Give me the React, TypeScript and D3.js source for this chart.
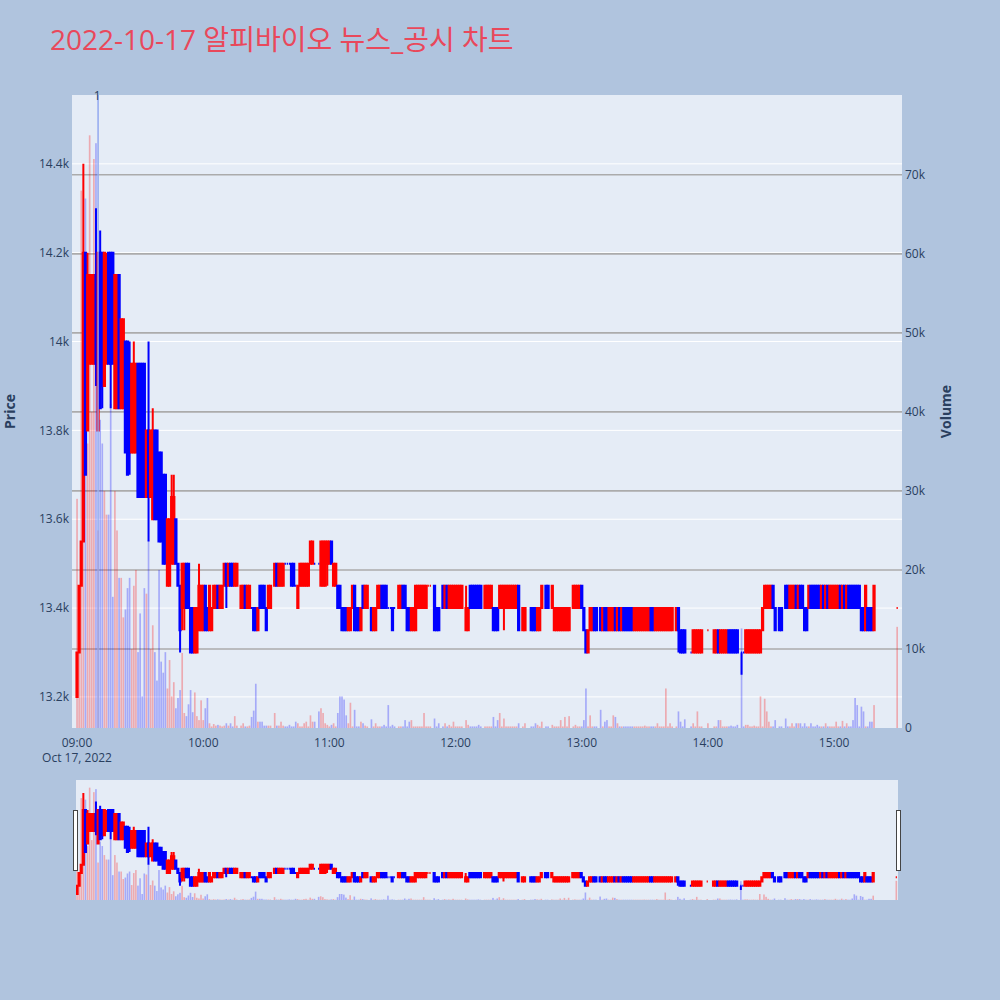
import React, { useEffect, useRef } from 'react';
import * as d3 from 'd3';

// 1-minute bars for 2022-10-17, minute = minutes after 09:00
const minutes = [
  0, 1, 2, 3, 4, 5, 6, 7, 8, 9,
  10, 11, 12, 13, 14, 15, 16, 17, 18, 19,
  20, 21, 22, 23, 24, 25, 26, 27, 28, 29,
  30, 31, 32, 33, 34, 35, 36, 37, 38, 39,
  40, 41, 42, 43, 44, 45, 46, 47, 48, 49,
  50, 51, 52, 53, 54, 55, 56, 57, 58, 59,
  60, 61, 62, 63, 64, 65, 66, 67, 68, 69,
  70, 71, 72, 73, 74, 75, 76, 78, 79, 80,
  81, 82, 83, 84, 85, 86, 87, 88, 89, 90,
  91, 92, 94, 95, 96, 97, 98, 99, 100, 101,
  102, 103, 104, 105, 106, 107, 108, 109, 110, 111,
  112, 113, 115, 116, 117, 118, 119, 120, 121, 122,
  123, 124, 125, 126, 127, 128, 129, 130, 131, 132,
  133, 134, 135, 136, 137, 138, 140, 141, 142, 143,
  144, 145, 146, 147, 148, 149, 150, 151, 153, 154,
  155, 156, 157, 158, 159, 160, 161, 162, 163, 164,
  165, 166, 167, 168, 170, 171, 172, 174, 175, 176,
  177, 178, 179, 180, 181, 182, 183, 185, 186, 187,
  188, 189, 190, 191, 192, 194, 195, 196, 197, 198,
  199, 200, 201, 202, 203, 204, 205, 206, 207, 208,
  209, 210, 212, 213, 216, 217, 218, 219, 220, 221,
  223, 224, 226, 227, 228, 229, 230, 231, 232, 233,
  234, 236, 237, 238, 239, 240, 241, 242, 243, 244,
  245, 246, 247, 249, 250, 251, 252, 253, 254, 255,
  256, 257, 258, 259, 260, 261, 262, 263, 264, 265,
  266, 267, 268, 269, 270, 271, 272, 273, 274, 275,
  276, 277, 278, 279, 280, 281, 282, 283, 285, 286,
  287, 288, 289, 292, 293, 294, 295, 296, 297, 300,
  303, 304, 305, 306, 307, 308, 309, 310, 311, 312,
  313, 314, 316, 317, 318, 319, 320, 321, 322, 323,
  324, 325, 326, 327, 328, 329, 330, 331, 332, 334,
  335, 337, 338, 339, 340, 341, 342, 343, 344, 345,
  346, 347, 348, 349, 350, 351, 352, 353, 354, 355,
  356, 357, 358, 359, 360, 361, 362, 363, 364, 365,
  366, 367, 368, 369, 370, 371, 372, 373, 374, 375,
  376, 377, 378, 379, 390,
];

const opens = [
  13200, 13300, 13450, 13550, 14200, 13800, 13950, 13950, 13950, 14150,
  13800, 14200, 14200, 13900, 13950, 14200, 14200, 14200, 13850, 13850,
  14150, 13850, 13850, 14000, 14000, 13950, 13750, 13750, 13750, 13950,
  13950, 13950, 13950, 13650, 13800, 13650, 13600, 13800, 13800, 13750,
  13750, 13700, 13700, 13450, 13450, 13500, 13500, 13600, 13500, 13450,
  13400, 13400, 13500, 13500, 13400, 13400, 13300, 13300, 13350, 13350,
  13350, 13450, 13400, 13350, 13350, 13400, 13400, 13450, 13400, 13400,
  13450, 13500, 13450, 13500, 13500, 13450, 13450, 13400, 13400, 13450,
  13400, 13400, 13400, 13400, 13400, 13350, 13450, 13450, 13450, 13400,
  13400, 13400, 13450, 13500, 13450, 13450, 13450, 13500, 13500, 13500,
  13500, 13500, 13450, 13400, 13450, 13450, 13450, 13450, 13450, 13500,
  13500, 13500, 13500, 13450, 13450, 13450, 13500, 13500, 13550, 13450,
  13450, 13450, 13450, 13400, 13400, 13400, 13350, 13350, 13400, 13450,
  13400, 13400, 13350, 13450, 13400, 13400, 13400, 13350, 13350, 13400,
  13400, 13450, 13450, 13450, 13400, 13400, 13400, 13400, 13400, 13400,
  13450, 13450, 13400, 13400, 13350, 13350, 13350, 13400, 13400, 13400,
  13400, 13400, 13450, 13450, 13450, 13400, 13400, 13450, 13400, 13450,
  13400, 13400, 13400, 13400, 13400, 13400, 13400, 13350, 13350, 13450,
  13450, 13450, 13450, 13450, 13450, 13400, 13400, 13400, 13400, 13400,
  13400, 13400, 13400, 13400, 13400, 13400, 13400, 13400, 13400, 13400,
  13400, 13450, 13350, 13350, 13400, 13400, 13400, 13350, 13350, 13400,
  13450, 13450, 13400, 13350, 13350, 13350, 13350, 13350, 13350, 13350,
  13350, 13400, 13400, 13400, 13400, 13450, 13400, 13350, 13300, 13350,
  13350, 13400, 13400, 13400, 13350, 13400, 13400, 13350, 13350, 13350,
  13400, 13350, 13400, 13350, 13400, 13400, 13400, 13400, 13400, 13350,
  13350, 13350, 13350, 13350, 13350, 13350, 13350, 13400, 13400, 13350,
  13350, 13350, 13350, 13350, 13350, 13350, 13350, 13350, 13350, 13400,
  13350, 13350, 13350, 13300, 13300, 13300, 13300, 13300, 13300, 13350,
  13300, 13300, 13350, 13300, 13300, 13300, 13300, 13350, 13350, 13350,
  13350, 13350, 13300, 13300, 13300, 13300, 13300, 13300, 13300, 13300,
  13300, 13300, 13350, 13400, 13400, 13400, 13400, 13450, 13400, 13400,
  13400, 13450, 13450, 13400, 13400, 13400, 13450, 13400, 13450, 13450,
  13400, 13400, 13400, 13450, 13450, 13450, 13450, 13450, 13400, 13450,
  13400, 13450, 13400, 13400, 13400, 13400, 13400, 13450, 13400, 13450,
  13400, 13450, 13450, 13450, 13450, 13450, 13450, 13400, 13400, 13350,
  13400, 13400, 13400, 13350, 13400,
];

const highs = [
  13300, 13450, 13550, 14400, 14200, 14200, 14150, 14150, 14150, 14300,
  14200, 14250, 14200, 14200, 14200, 14200, 14200, 14200, 14150, 14150,
  14150, 14050, 14050, 14000, 14000, 14000, 13950, 14000, 13950, 13950,
  13950, 13950, 13950, 13800, 14000, 13800, 13850, 13800, 13800, 13750,
  13750, 13700, 13700, 13600, 13600, 13700, 13700, 13600, 13500, 13450,
  13500, 13500, 13500, 13500, 13400, 13400, 13400, 13400, 13500, 13450,
  13450, 13450, 13400, 13450, 13400, 13450, 13450, 13450, 13450, 13450,
  13500, 13500, 13500, 13500, 13500, 13500, 13500, 13450, 13450, 13450,
  13450, 13450, 13400, 13400, 13400, 13400, 13450, 13450, 13450, 13400,
  13450, 13450, 13500, 13500, 13500, 13500, 13500, 13500, 13500, 13500,
  13500, 13500, 13450, 13450, 13500, 13500, 13500, 13500, 13500, 13550,
  13550, 13500, 13500, 13550, 13550, 13550, 13550, 13550, 13550, 13500,
  13500, 13450, 13450, 13400, 13400, 13400, 13400, 13400, 13450, 13450,
  13400, 13400, 13400, 13450, 13450, 13450, 13400, 13400, 13400, 13450,
  13450, 13450, 13450, 13450, 13400, 13400, 13400, 13400, 13450, 13450,
  13450, 13450, 13400, 13400, 13400, 13400, 13450, 13450, 13450, 13450,
  13450, 13450, 13450, 13450, 13450, 13400, 13400, 13450, 13450, 13450,
  13450, 13450, 13450, 13450, 13450, 13450, 13450, 13450, 13400, 13450,
  13450, 13450, 13450, 13450, 13450, 13450, 13450, 13450, 13450, 13400,
  13400, 13400, 13450, 13450, 13450, 13450, 13450, 13450, 13450, 13450,
  13450, 13450, 13400, 13400, 13400, 13400, 13400, 13400, 13400, 13450,
  13450, 13450, 13450, 13400, 13400, 13400, 13400, 13400, 13400, 13400,
  13400, 13450, 13450, 13450, 13450, 13450, 13400, 13350, 13350, 13400,
  13400, 13400, 13400, 13400, 13400, 13400, 13400, 13400, 13400, 13400,
  13400, 13400, 13400, 13400, 13400, 13400, 13400, 13400, 13400, 13400,
  13400, 13400, 13400, 13400, 13400, 13400, 13400, 13400, 13400, 13400,
  13400, 13400, 13400, 13400, 13400, 13400, 13400, 13400, 13400, 13400,
  13350, 13350, 13350, 13300, 13350, 13350, 13350, 13350, 13350, 13350,
  13350, 13350, 13350, 13350, 13350, 13350, 13350, 13350, 13350, 13350,
  13350, 13350, 13300, 13300, 13350, 13350, 13350, 13350, 13350, 13350,
  13350, 13350, 13400, 13450, 13450, 13450, 13450, 13450, 13400, 13400,
  13400, 13450, 13450, 13450, 13450, 13450, 13450, 13450, 13450, 13450,
  13400, 13400, 13450, 13450, 13450, 13450, 13450, 13450, 13450, 13450,
  13450, 13450, 13450, 13450, 13450, 13450, 13450, 13450, 13450, 13450,
  13450, 13450, 13450, 13450, 13450, 13450, 13450, 13400, 13400, 13450,
  13400, 13400, 13400, 13450, 13400,
];

const lows = [
  13200, 13300, 13450, 13550, 13700, 13800, 13950, 13950, 13950, 13900,
  13800, 13850, 13850, 13900, 13950, 13950, 13850, 13950, 13850, 13850,
  13850, 13850, 13850, 13750, 13700, 13700, 13750, 13750, 13750, 13650,
  13650, 13650, 13650, 13650, 13550, 13650, 13600, 13600, 13600, 13550,
  13550, 13500, 13500, 13450, 13450, 13500, 13500, 13500, 13450, 13300,
  13350, 13350, 13400, 13400, 13300, 13300, 13300, 13300, 13350, 13350,
  13350, 13350, 13350, 13350, 13350, 13400, 13400, 13400, 13400, 13400,
  13450, 13400, 13450, 13450, 13450, 13450, 13450, 13400, 13400, 13400,
  13400, 13400, 13400, 13350, 13350, 13350, 13400, 13400, 13400, 13350,
  13400, 13400, 13450, 13450, 13450, 13450, 13450, 13500, 13500, 13500,
  13450, 13450, 13450, 13400, 13450, 13450, 13450, 13450, 13450, 13500,
  13500, 13500, 13500, 13450, 13450, 13450, 13450, 13500, 13500, 13450,
  13450, 13400, 13400, 13350, 13350, 13350, 13350, 13350, 13400, 13350,
  13350, 13350, 13350, 13400, 13400, 13400, 13350, 13350, 13350, 13400,
  13400, 13400, 13400, 13400, 13400, 13400, 13350, 13400, 13400, 13400,
  13400, 13400, 13350, 13350, 13350, 13350, 13350, 13400, 13400, 13400,
  13400, 13400, 13450, 13450, 13350, 13350, 13350, 13400, 13400, 13400,
  13400, 13400, 13400, 13400, 13400, 13400, 13400, 13350, 13350, 13400,
  13400, 13400, 13400, 13400, 13400, 13400, 13400, 13400, 13400, 13350,
  13350, 13350, 13400, 13400, 13350, 13400, 13400, 13400, 13400, 13400,
  13400, 13350, 13350, 13350, 13350, 13350, 13350, 13350, 13350, 13400,
  13400, 13400, 13400, 13350, 13350, 13350, 13350, 13350, 13350, 13350,
  13350, 13400, 13400, 13400, 13400, 13400, 13350, 13300, 13300, 13350,
  13350, 13350, 13350, 13350, 13350, 13350, 13350, 13350, 13350, 13350,
  13350, 13350, 13350, 13350, 13350, 13350, 13350, 13350, 13350, 13350,
  13350, 13350, 13350, 13350, 13350, 13350, 13350, 13350, 13350, 13350,
  13350, 13350, 13350, 13350, 13350, 13350, 13350, 13350, 13350, 13300,
  13300, 13300, 13300, 13300, 13300, 13300, 13300, 13300, 13300, 13350,
  13300, 13300, 13300, 13300, 13300, 13300, 13300, 13300, 13300, 13300,
  13300, 13300, 13250, 13300, 13300, 13300, 13300, 13300, 13300, 13300,
  13300, 13300, 13350, 13400, 13400, 13400, 13400, 13400, 13350, 13350,
  13350, 13400, 13400, 13400, 13400, 13400, 13400, 13400, 13400, 13400,
  13350, 13350, 13400, 13400, 13400, 13400, 13400, 13400, 13400, 13400,
  13400, 13400, 13400, 13400, 13400, 13400, 13400, 13400, 13400, 13400,
  13400, 13400, 13400, 13400, 13400, 13400, 13400, 13350, 13350, 13350,
  13350, 13350, 13350, 13350, 13400,
];

const closes = [
  13300, 13450, 13550, 14200, 13700, 14150, 14150, 14150, 14150, 13950,
  14200, 13850, 13900, 14200, 14150, 13950, 13950, 13950, 14150, 14150,
  13850, 14050, 14050, 13750, 13700, 13750, 13950, 13950, 13950, 13650,
  13650, 13650, 13650, 13800, 13650, 13800, 13800, 13600, 13600, 13550,
  13550, 13500, 13500, 13600, 13600, 13650, 13650, 13500, 13450, 13350,
  13500, 13500, 13400, 13400, 13300, 13300, 13400, 13400, 13450, 13450,
  13450, 13350, 13350, 13450, 13400, 13450, 13450, 13400, 13450, 13450,
  13500, 13450, 13500, 13450, 13450, 13500, 13500, 13450, 13450, 13400,
  13450, 13450, 13400, 13350, 13350, 13400, 13400, 13400, 13400, 13350,
  13450, 13450, 13500, 13450, 13500, 13500, 13500, 13500, 13500, 13500,
  13450, 13450, 13450, 13450, 13500, 13500, 13500, 13500, 13500, 13550,
  13550, 13500, 13500, 13550, 13550, 13550, 13550, 13550, 13500, 13500,
  13500, 13400, 13400, 13350, 13350, 13350, 13400, 13400, 13450, 13350,
  13350, 13350, 13400, 13400, 13450, 13450, 13350, 13400, 13400, 13450,
  13450, 13400, 13400, 13400, 13400, 13400, 13350, 13400, 13450, 13450,
  13400, 13400, 13350, 13350, 13400, 13400, 13450, 13450, 13450, 13450,
  13450, 13450, 13450, 13450, 13350, 13350, 13350, 13400, 13450, 13400,
  13450, 13450, 13450, 13450, 13450, 13450, 13450, 13400, 13400, 13400,
  13400, 13400, 13400, 13400, 13400, 13450, 13450, 13450, 13450, 13350,
  13350, 13350, 13450, 13450, 13450, 13450, 13450, 13450, 13450, 13450,
  13450, 13350, 13400, 13400, 13350, 13350, 13350, 13400, 13400, 13450,
  13400, 13400, 13450, 13400, 13400, 13400, 13400, 13400, 13400, 13400,
  13400, 13450, 13450, 13450, 13450, 13400, 13350, 13300, 13350, 13400,
  13400, 13350, 13350, 13350, 13400, 13350, 13350, 13400, 13400, 13400,
  13350, 13400, 13350, 13400, 13350, 13350, 13350, 13350, 13350, 13400,
  13400, 13400, 13400, 13400, 13400, 13400, 13400, 13350, 13350, 13400,
  13400, 13400, 13400, 13400, 13400, 13400, 13400, 13400, 13400, 13350,
  13300, 13300, 13300, 13300, 13350, 13350, 13350, 13350, 13350, 13350,
  13350, 13350, 13300, 13350, 13350, 13350, 13350, 13300, 13300, 13300,
  13300, 13300, 13300, 13300, 13350, 13350, 13350, 13350, 13350, 13350,
  13350, 13350, 13400, 13450, 13450, 13450, 13450, 13400, 13350, 13350,
  13350, 13400, 13400, 13450, 13450, 13450, 13400, 13450, 13400, 13400,
  13350, 13350, 13450, 13400, 13400, 13400, 13400, 13400, 13450, 13400,
  13450, 13400, 13450, 13450, 13450, 13450, 13450, 13400, 13450, 13400,
  13450, 13400, 13400, 13400, 13400, 13400, 13400, 13350, 13350, 13450,
  13350, 13350, 13350, 13450, 13400,
];

const volumes = [
  29000, 12000, 68000, 30000, 67000, 36000, 75000, 40000, 72000, 74000,
  25000, 39000, 36000, 30000, 27000, 27000, 41000, 16600, 30000, 25000,
  19000, 19000, 14000, 15000, 17700, 19000, 10000, 18000, 20000, 9600,
  14500, 4000, 17700, 17000, 23800, 10000, 13000, 9600, 6000, 20000,
  8400, 7000, 9600, 5000, 8600, 4000, 5800, 2500, 3800, 4800,
  9500, 1900, 1500, 3000, 4800, 2000, 4500, 1500, 1000, 3500,
  1000, 2500, 3800, 600, 200, 500, 300, 400, 300, 200,
  300, 600, 300, 600, 200, 1500, 300, 300, 600, 200,
  200, 300, 1400, 2200, 5600, 800, 800, 800, 300, 300,
  300, 300, 1900, 300, 300, 800, 300, 200, 200, 400,
  200, 200, 800, 600, 200, 200, 600, 800, 200, 1600,
  800, 800, 2100, 2500, 1900, 600, 400, 200, 400, 600,
  200, 1900, 4000, 4000, 3600, 1600, 600, 3200, 200, 2300,
  200, 200, 800, 600, 300, 200, 1100, 200, 600, 200,
  200, 200, 400, 200, 2900, 200, 400, 200, 200, 200,
  200, 1000, 200, 800, 1000, 200, 200, 200, 200, 200,
  1900, 200, 200, 200, 1200, 200, 600, 200, 600, 200,
  400, 200, 800, 200, 200, 200, 200, 1000, 400, 200,
  200, 200, 200, 400, 200, 200, 200, 200, 200, 1400,
  200, 1000, 1900, 200, 1200, 200, 200, 200, 200, 200,
  200, 600, 200, 600, 200, 200, 600, 400, 200, 800,
  200, 200, 400, 200, 200, 200, 1000, 200, 1400, 200,
  1500, 200, 400, 200, 200, 200, 1000, 5000, 200, 1600,
  200, 200, 200, 2300, 200, 800, 1000, 200, 200, 1600,
  1400, 600, 200, 200, 200, 200, 200, 200, 200, 200,
  200, 200, 200, 200, 300, 200, 200, 200, 200, 200,
  600, 200, 200, 200, 5000, 200, 600, 200, 200, 2100,
  800, 200, 1100, 200, 600, 200, 2100, 200, 200, 600,
  200, 200, 1000, 1000, 200, 200, 200, 200, 300, 200,
  200, 400, 12600, 200, 400, 400, 200, 200, 300, 200,
  200, 4000, 200, 3700, 2100, 800, 200, 200, 1000, 200,
  200, 1200, 200, 200, 600, 200, 600, 600, 600, 200,
  600, 200, 200, 600, 200, 200, 400, 200, 200, 200,
  600, 200, 200, 200, 200, 800, 200, 200, 900, 200,
  600, 200, 200, 1000, 3800, 2900, 200, 2700, 2100, 200,
  200, 800, 800, 2900, 12800,
];

// open == close bars that are drawn in the rising colour
const redDojiMinutes = [167, 168, 300, 390];

const priceTicks = [13200, 13400, 13600, 13800, 14000, 14200, 14400];
const volumeTicks = [0, 10000, 20000, 30000, 40000, 50000, 60000, 70000];
const hourTicks = [0, 60, 120, 180, 240, 300, 360];
const hourLabels = ['09:00', '10:00', '11:00', '12:00', '13:00', '14:00', '15:00'];
const newsMinutes = [10];
const newsLabels = ['1'];

const TITLE = '2022-10-17 알피바이오 뉴스_공시 차트';
const UP = '#ff0000';
const DOWN = '#0000ff';
const FONT = '"Open Sans", verdana, arial, "Noto Sans CJK KR", sans-serif';
const INK = '#2a3f5f';

const dayStart = new Date(2022, 9, 17, 9, 0, 0);
const toTime = (m: number) => new Date(dayStart.getTime() + m * 60000);

function candlePath(x: number, hw: number, yo: number, yh: number, yl: number, yc: number) {
  const top = Math.min(yo, yc);
  const bot = Math.max(yo, yc);
  return `M${x - hw},${top}H${x + hw}V${bot}H${x - hw}Z` +
    `M${x},${top}V${Math.min(yh, top)}M${x},${bot}V${Math.max(yl, bot)}`;
}

function buildRows() {
  const n = Math.min(minutes.length, opens.length, highs.length, lows.length, closes.length, volumes.length);
  const rows = [];
  for (let i = 0; i < n; i++) {
    const o = opens[i], c = closes[i];
    const up = c > o || (c === o && redDojiMinutes.includes(minutes[i]));
    rows.push({ t: toTime(minutes[i]), o, h: highs[i], l: lows[i], c, v: volumes[i], up });
  }
  return rows;
}

function drawTraces(g, rows, x, yP, yV, base, halfBox, barW) {
  g.append('g')
    .selectAll('path')
    .data(rows)
    .join('path')
    .attr('d', d => candlePath(x(d.t), halfBox, yP(d.o), yP(d.h), yP(d.l), yP(d.c)))
    .attr('fill', d => d.up ? UP : DOWN)
    .attr('stroke', d => d.up ? UP : DOWN)
    .attr('stroke-width', 2);

  g.append('g')
    .selectAll('rect')
    .data(rows)
    .join('rect')
    .attr('x', d => x(d.t) - barW / 2)
    .attr('width', barW)
    .attr('y', d => yV(d.v))
    .attr('height', d => base - yV(d.v))
    .attr('fill', d => d.up ? UP : DOWN)
    .attr('opacity', 0.28);
}

function CandleChart() {
  const svgRef = useRef(null);

  useEffect(() => {
    const svg = d3.select(svgRef.current);
    svg.selectAll('*').remove();

    const rows = buildRows();
    const plot = { left: 72, right: 902, top: 95, bottom: 728 };
    const slider = { left: 76, right: 898, top: 780, bottom: 900 };

    const x = d3.scaleTime().domain([toTime(-2.4), toTime(392.3)]).range([plot.left, plot.right]);
    const yP = d3.scaleLinear().domain([13130, 14555]).range([plot.bottom, plot.top]);
    const yV = d3.scaleLinear().domain([0, 80100]).range([plot.bottom, plot.top]);

    svg.append('rect').attr('width', 1000).attr('height', 1000).attr('fill', '#b0c4de');

    svg.append('text')
      .attr('x', 50).attr('y', 50)
      .attr('font-family', FONT).attr('font-size', 28)
      .attr('fill', '#e9485b')
      .text(TITLE);

    // main plot
    svg.append('rect')
      .attr('x', plot.left).attr('y', plot.top)
      .attr('width', plot.right - plot.left).attr('height', plot.bottom - plot.top)
      .attr('fill', '#e5ecf6');

    const defs = svg.append('defs');
    defs.append('clipPath').attr('id', 'main-clip').append('rect')
      .attr('x', plot.left).attr('y', plot.top)
      .attr('width', plot.right - plot.left).attr('height', plot.bottom - plot.top);
    defs.append('clipPath').attr('id', 'slider-clip').append('rect')
      .attr('x', slider.left).attr('y', slider.top)
      .attr('width', slider.right - slider.left).attr('height', slider.bottom - slider.top);

    const grid = svg.append('g');
    grid.selectAll('.pg').data(priceTicks).join('line')
      .attr('x1', plot.left).attr('x2', plot.right)
      .attr('y1', d => yP(d)).attr('y2', d => yP(d))
      .attr('stroke', '#ffffff').attr('stroke-width', 1);
    grid.selectAll('.vg').data(volumeTicks.filter(v => v > 0)).join('line')
      .attr('x1', plot.left).attr('x2', plot.right)
      .attr('y1', d => yV(d)).attr('y2', d => yV(d))
      .attr('stroke', '#ababab').attr('stroke-width', 1.6);

    const main = svg.append('g').attr('clip-path', 'url(#main-clip)');
    drawTraces(main, rows, x, yP, yV, plot.bottom, 0.63, 1.68);

    // news marker
    newsMinutes.forEach((m, i) => {
      const nx = x(toTime(m));
      main.append('line')
        .attr('x1', nx).attr('x2', nx).attr('y1', plot.top).attr('y2', plot.bottom)
        .attr('stroke', '#8ea4ef').attr('stroke-width', 1.4);
      svg.append('text')
        .attr('x', nx - 1).attr('y', 100)
        .attr('text-anchor', 'middle')
        .attr('font-family', FONT).attr('font-size', 12).attr('fill', INK)
        .text(newsLabels[i]);
    });

    // axes labels
    const fmtPrice = d3.format('~s');
    svg.append('g').selectAll('text').data(priceTicks).join('text')
      .attr('x', 69).attr('y', d => yP(d)).attr('dy', '0.35em')
      .attr('text-anchor', 'end')
      .attr('font-family', FONT).attr('font-size', 12).attr('fill', INK)
      .text(d => fmtPrice(d));
    svg.append('g').selectAll('text').data(volumeTicks).join('text')
      .attr('x', 905).attr('y', d => yV(d)).attr('dy', '0.35em')
      .attr('text-anchor', 'start')
      .attr('font-family', FONT).attr('font-size', 12).attr('fill', INK)
      .text(d => d3.format('~s')(d));
    svg.append('g').selectAll('text').data(hourTicks).join('text')
      .attr('x', d => x(toTime(d))).attr('y', 747)
      .attr('text-anchor', 'middle')
      .attr('font-family', FONT).attr('font-size', 12).attr('fill', INK)
      .text((d, i) => hourLabels[i]);
    svg.append('text')
      .attr('x', x(toTime(0))).attr('y', 762)
      .attr('text-anchor', 'middle')
      .attr('font-family', FONT).attr('font-size', 12).attr('fill', INK)
      .text(d3.timeFormat('%b %-d, %Y')(dayStart));

    svg.append('text')
      .attr('transform', `translate(15,${(plot.top + plot.bottom) / 2}) rotate(-90)`)
      .attr('text-anchor', 'middle')
      .attr('font-family', FONT).attr('font-size', 14).attr('font-weight', 'bold').attr('fill', INK)
      .text('Price');
    svg.append('text')
      .attr('transform', `translate(951,${(plot.top + plot.bottom) / 2}) rotate(-90)`)
      .attr('text-anchor', 'middle')
      .attr('font-family', FONT).attr('font-size', 14).attr('font-weight', 'bold').attr('fill', INK)
      .text('Volume');

    // range slider
    const xs = d3.scaleTime().domain([toTime(-0.5), toTime(390.8)]).range([slider.left, slider.right]);
    const ysP = d3.scaleLinear().domain([13130, 14555]).range([slider.bottom, slider.top]);
    const ysV = d3.scaleLinear().domain([0, 80100]).range([slider.bottom, slider.top]);
    svg.append('rect')
      .attr('x', slider.left).attr('y', slider.top)
      .attr('width', slider.right - slider.left).attr('height', slider.bottom - slider.top)
      .attr('fill', '#e5ecf6');
    const mini = svg.append('g').attr('clip-path', 'url(#slider-clip)');
    drawTraces(mini, rows, xs, ysP, ysV, slider.bottom, 0.6, 1.6);

    [slider.left - 3, slider.right - 2].forEach(hx => {
      svg.append('rect')
        .attr('x', hx + 0.5).attr('y', 810.5)
        .attr('width', 4).attr('height', 60)
        .attr('fill', '#ffffff').attr('stroke', '#444444').attr('stroke-width', 1);
    });
  }, []);

  return <svg ref={svgRef} width={1000} height={1000} style={{ position: 'absolute', left: 0, top: 0 }} />;
}

export default function App() {
  return (
    <div>
      <CandleChart />
    </div>
  );
}
